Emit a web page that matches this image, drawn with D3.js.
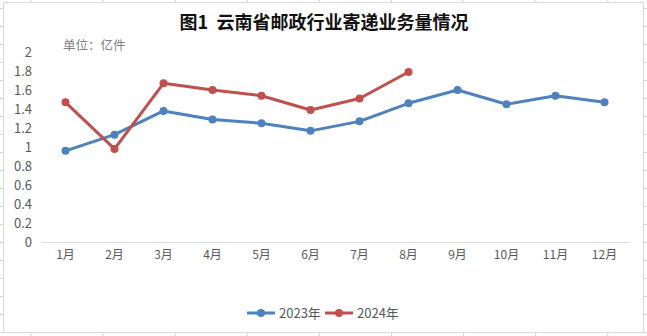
<!DOCTYPE html>
<html><head><meta charset="utf-8">
<script src="https://cdn.jsdelivr.net/npm/d3@7"></script>
<style>
html,body{margin:0;padding:0;background:#fff;}
svg{display:block;}
</style></head>
<body>
<svg id="chart" width="647" height="336"></svg>
<script>
const months = ["1月","2月","3月","4月","5月","6月","7月","8月","9月","10月","11月","12月"];
const values2023 = [0.96,1.13,1.38,1.29,1.25,1.17,1.27,1.46,1.60,1.45,1.54,1.47];
const values2024 = [1.47,0.98,1.67,1.60,1.54,1.39,1.51,1.79];
const yTicks = [0,0.2,0.4,0.6,0.8,1,1.2,1.4,1.6,1.8,2];
const seriesNames = ["2023年","2024年"];
const colors = ["#4f81bd","#c0504d"];

const svg = d3.select("#chart");
const W = 647, H = 336;
const font = "'Noto Sans CJK SC','Noto Sans',sans-serif";

// spreadsheet grid background
const grid = svg.append("g");
d3.range(31, W, 72.1).forEach(x => grid.append("line").attr("x1",x).attr("x2",x).attr("y1",0).attr("y2",H).attr("stroke","#d4d4d4").attr("stroke-width",1));
d3.range(8, H, 18).forEach(y => grid.append("line").attr("x1",0).attr("x2",W).attr("y1",y+0.5).attr("y2",y+0.5).attr("stroke","#d4d4d4").attr("stroke-width",1));

// chart area
svg.append("rect").attr("x",3.5).attr("y",2.5).attr("width",640).attr("height",330)
  .attr("fill","#fff").attr("stroke","#d9d9d9").attr("stroke-width",1);

const x = d3.scaleBand().domain(months).range([41,629]);
const y = d3.scaleLinear().domain([0,2]).range([242,52]);

// title
svg.append("text").attr("x",324).attr("y",29).attr("text-anchor","middle")
  .attr("font-family",font).attr("font-weight","bold").attr("font-size",18).attr("fill","#111")
  .attr("xml:space","preserve").text("图1  云南省邮政行业寄递业务量情况");

svg.append("text").attr("x",63).attr("y",50).attr("font-family",font).attr("font-size",12.5)
  .attr("fill","#808080").text("单位：亿件");

// y axis
const yAxis = d3.axisLeft(y).tickValues(yTicks).tickSize(0).tickPadding(0).tickFormat(d3.format("~g"));
const gy = svg.append("g").attr("transform","translate(32,0)").call(yAxis);
gy.select(".domain").remove();
gy.selectAll("text").attr("font-family",font).attr("font-size",13).attr("fill","#595959");

// x axis
const xAxis = d3.axisBottom(x).tickSize(0).tickPadding(8);
const gx = svg.append("g").attr("transform","translate(0,242)").call(xAxis);
gx.select(".domain").attr("stroke","#d9d9d9").attr("stroke-width",1);
gx.selectAll("text").attr("font-family",font).attr("font-size",12).attr("fill","#595959");

const line = d3.line().x((d,i)=>x(months[i])+x.bandwidth()/2).y(d=>y(d));
[values2023, values2024].forEach((vals,k)=>{
  svg.append("path").datum(vals).attr("d",line).attr("fill","none")
    .attr("stroke",colors[k]).attr("stroke-width",3).attr("stroke-linejoin","round");
  svg.selectAll(null).data(vals).enter().append("circle")
    .attr("cx",(d,i)=>x(months[i])+x.bandwidth()/2).attr("cy",d=>y(d)).attr("r",4)
    .attr("fill",colors[k]);
});

// legend
const legX = [247, 325];
seriesNames.forEach((n,k)=>{
  const g = svg.append("g").attr("transform",`translate(${legX[k]},313)`);
  g.append("line").attr("x1",0).attr("x2",28).attr("y1",0).attr("y2",0).attr("stroke",colors[k]).attr("stroke-width",3);
  g.append("circle").attr("cx",14).attr("cy",0).attr("r",4).attr("fill",colors[k]);
  g.append("text").attr("x",32).attr("y",4.5).attr("font-family",font).attr("font-size",13).attr("fill","#595959").text(n);
});
</script>
</body></html>
